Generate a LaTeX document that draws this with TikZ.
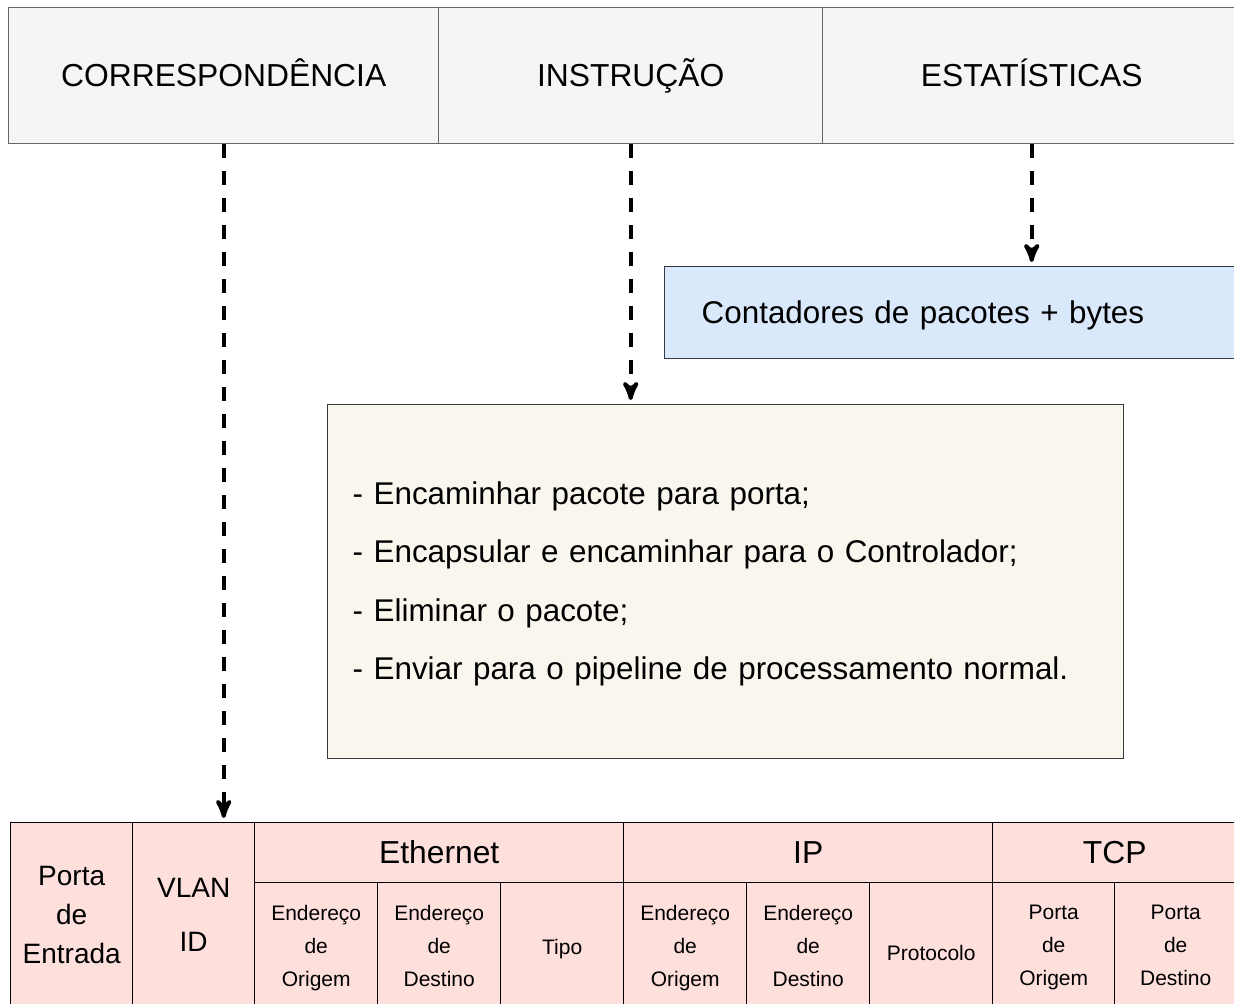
\documentclass[tikz,border=0pt]{standalone}
\usepackage{fontspec}
\setmainfont{Liberation Sans}
\usetikzlibrary{arrows,positioning}
\definecolor{headfill}{HTML}{F5F5F5}
\definecolor{headline}{HTML}{666666}
\definecolor{countfill}{HTML}{DAE8FC}
\definecolor{countline}{HTML}{36393D}
\definecolor{actfill}{HTML}{F9F7ED}
\definecolor{actline}{HTML}{36393D}
\definecolor{cellfill}{HTML}{FDDFDC}

\begin{document}
\begin{tikzpicture}[x=0.5pt,y=-0.5pt,>=stealth',shorten >=2pt,
  even/.style={execute at begin node=\vphantom{Ég},execute at end node=\vphantom{Ég}},
  head/.style={even,draw=headline,fill=headfill,line width=0.7pt,anchor=north west,
    inner sep=0pt,minimum height=68pt,font=\fontsize{15.9}{19}\selectfont},
  box/.style={even,line width=0.7pt,anchor=north west,inner ysep=0pt,align=left,
    font=\fontsize{15.7}{29.3}\selectfont},
  cell/.style={even,draw=black,fill=cellfill,line width=0.7pt,anchor=north west,
    inner sep=0pt,align=center},
  big/.style={font=\fontsize{14}{19.5}\selectfont},
  small/.style={font=\fontsize{10.5}{16.5}\selectfont},
  flow/.style={->,line width=2pt,dash pattern=on 7pt off 6.5pt}]
  \useasboundingbox (0,0) rectangle (1234,1003);
  \clip (0,0) rectangle (1234,1003);

  % flow table entry
  \node[head,minimum width=215pt] (match) at (8,7)   {CORRESPONDÊNCIA};
  \node[head,minimum width=192pt] (instr) at (438,7) {INSTRUÇÃO};
  \node[head,minimum width=209pt] (stats) at (822,7) {ESTATÍSTICAS};

  \node[box,draw=countline,fill=countfill,minimum height=46pt,
        inner xsep=18.5pt,text width=251pt] (count) at (664,266)
        {Contadores de pacotes + bytes};

  \node[box,draw=actline,fill=actfill,minimum height=177pt,
        inner xsep=12.5pt,text width=373pt] (actions) at (327,404)
        {- Encaminhar pacote para porta;\\
         - Encapsular e encaminhar para o Controlador;\\
         - Eliminar o pacote;\\
         - Enviar para o pipeline de processamento normal.};

  % header fields
  \node[cell,big,minimum width=61pt,minimum height=95pt] (porta) at (10,822)
        {Porta\\de\\Entrada};
  \node[cell,font=\fontsize{14}{27}\selectfont,minimum width=61pt,minimum height=95pt]
        (vlan) at (132,822) {VLAN\\ID};
  \node[cell,font=\fontsize{15.9}{19}\selectfont,minimum width=184.5pt,minimum height=30pt]
        (eth) at (254,822) {Ethernet};
  \node[cell,font=\fontsize{15.9}{19}\selectfont,minimum width=184.5pt,minimum height=30pt]
        (ip) at (623,822) {IP};
  \node[cell,font=\fontsize{15.9}{19}\selectfont,minimum width=122pt,minimum height=30pt]
        (tcp) at (992,822) {TCP};

  \node[cell,small,minimum width=61.5pt,minimum height=65pt] (ethsrc) at (254,882)
        {Endereço\\de\\Origem};
  \node[cell,small,minimum width=61.5pt,minimum height=65pt] (ethdst) at (377,882)
        {Endereço\\de\\Destino};
  \node[cell,small,minimum width=61.5pt,minimum height=65pt] (ethtype) at (500,882)
        {Tipo};
  \node[cell,small,minimum width=61.5pt,minimum height=65pt] (ipsrc) at (623,882)
        {Endereço\\de\\Origem};
  \node[cell,small,minimum width=61.5pt,minimum height=65pt] (ipdst) at (746,882)
        {Endereço\\de\\Destino};
  \node[cell,small,minimum width=61.5pt,minimum height=65pt] (ipproto) at (869,882)
        {\raisebox{-4pt}{Protocolo}};
  \node[cell,small,minimum width=61pt,minimum height=65pt] (tcpsrc) at (992,882)
        {Porta\\de\\Origem};
  \node[cell,small,minimum width=61pt,minimum height=65pt] (tcpdst) at (1114,882)
        {Porta\\de\\Destino};

  \draw[flow] (match.south) -- (match.south |- porta.north);
  \draw[flow] (instr.south) -- (instr.south |- actions.north);
  \draw[flow] (stats.south) -- (stats.south |- count.north);
\end{tikzpicture}
\end{document}
